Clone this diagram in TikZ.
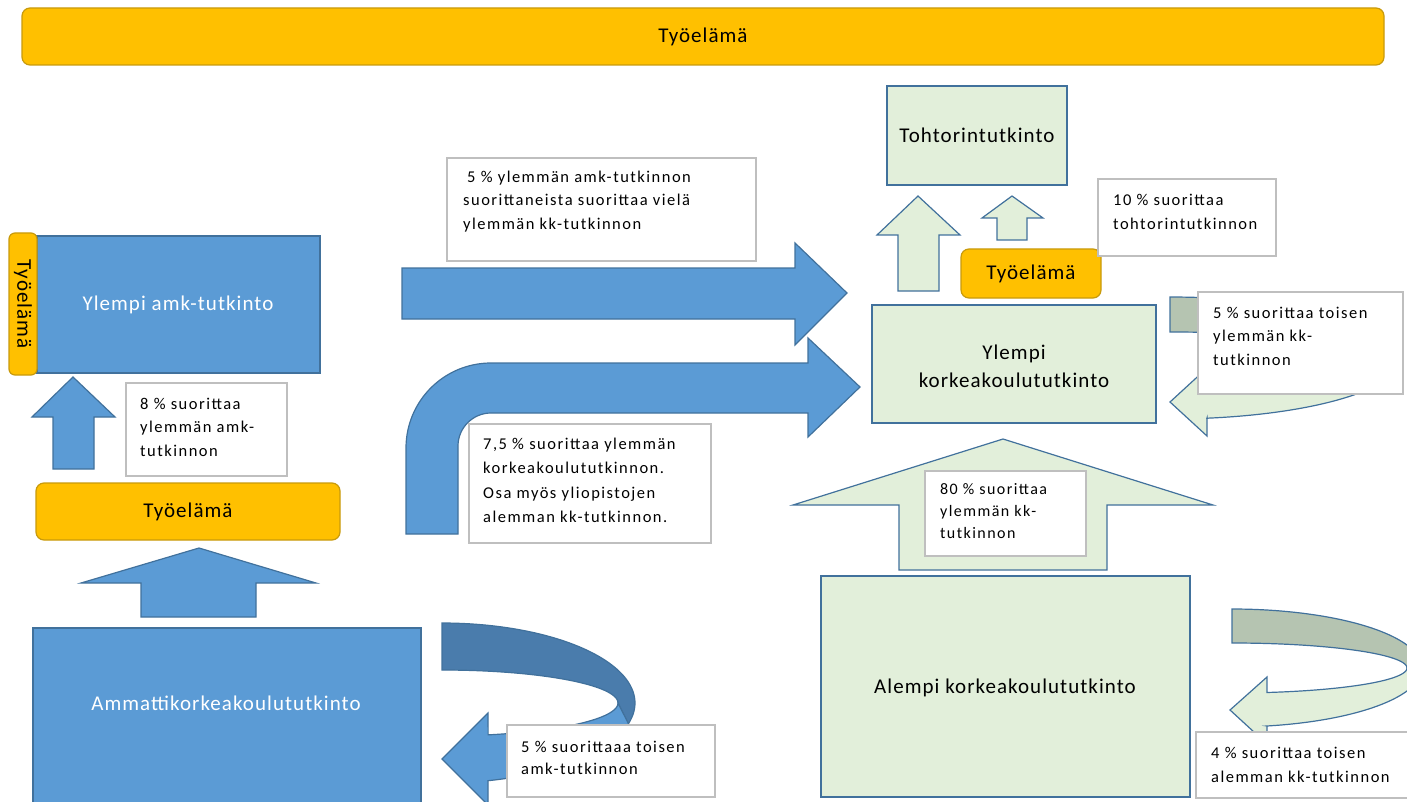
\documentclass[tikz,border=0pt]{standalone}
\usepackage{fontspec}
\setmainfont{Carlito}
\newfontfamily\lblfont[LetterSpace=9]{Carlito}
\newfontfamily\bigfont[LetterSpace=5]{Carlito}
\definecolor{bluef}{HTML}{5B9BD5}
\definecolor{blued}{HTML}{41719C}
\definecolor{bluedark}{HTML}{4A7CAC}
\definecolor{greenf}{HTML}{E2EFDA}
\definecolor{greend}{HTML}{B5C4B1}
\definecolor{orf}{HTML}{FFC000}
\definecolor{ord}{HTML}{C89A0C}
\definecolor{lblb}{HTML}{BFBFBF}
\tikzset{
  blueshape/.style={fill=bluef, draw=blued, line width=1.2pt},
  darkshape/.style={fill=bluedark, draw=blued, line width=1.2pt},
  greenshape/.style={fill=greenf, draw=blued, line width=1.2pt},
  greydshape/.style={fill=greend, draw=blued, line width=1.2pt},
  orbox/.style={fill=orf, draw=ord, line width=1.2pt, rounded corners=8pt, inner sep=0pt},
  plainbox/.style={line width=1.2pt, inner sep=0pt},
  lblbox/.style={fill=white, draw=lblb, line width=1.5pt, inner sep=0pt},
  lbltext/.style={font=\lblfont\fontsize{16.5}{23.7}\selectfont, align=left, anchor=north west, inner sep=0pt},
  bigtext/.style={font=\bigfont\fontsize{21}{28}\selectfont, align=center, inner sep=0pt},
}
\begin{document}
\begin{tikzpicture}[x=1pt,y=-1pt]
\useasboundingbox (0,0) rectangle (1407,802);
\clip (0,0) rectangle (1407,802);

% top bar
\node[orbox, minimum width=1362pt, minimum height=57pt] (topbar) at (703,36.5) {};
\node[bigtext] (topbartxt) at (703,37) {Työelämä};

% ---------- left column ----------
\node[plainbox, fill=bluef, draw=blued, minimum width=283pt, minimum height=137pt] (ylamk) at (178.5,304.5) {};
\node[bigtext, text=white] (ylamktxt) at (178,305) {Ylempi amk-tutkinto};
\node[orbox, rounded corners=6pt, minimum width=142pt, minimum height=28pt, rotate=-90] (vtyo) at (23,304) {};
\node[bigtext, rotate=-90] (vtyotxt) at (23,304) {Työelämä};

\draw[blueshape] (73,377) -- (115,417) -- (94,417) -- (94,469) -- (53,469) -- (53,417) -- (32,417) -- cycle;

\node[orbox, minimum width=304pt, minimum height=57pt] (tyo2) at (188,511.5) {};
\node[bigtext] (tyo2txt) at (188,512) {Työelämä};

\draw[blueshape] (199,548) -- (316,583) -- (256,583) -- (256,617) -- (141,617) -- (141,583) -- (81,583) -- cycle;

\node[plainbox, fill=bluef, draw=blued, minimum width=388pt, minimum height=182pt] (amk) at (227,719) {};
\node[bigtext, text=white] (amktxt) at (226,703) {Ammattikorkeakoulututkinto};

% ---------- middle arrows ----------
\draw[blueshape] (402,268) -- (795,268) -- (795,243) -- (847,293) -- (795,345) -- (795,319) -- (402,319) -- cycle;

\draw[blueshape] (406,534) -- (406,448) .. controls (406,401) and (444,363) .. (491,363)
  -- (808,363) -- (808,338) -- (860,387) -- (808,437) -- (808,413) -- (491,413)
  .. controls (472.8,413) and (458,427.8) .. (458,446) -- (458,534) -- cycle;

% bottom middle curved arrow
\draw[darkshape] plot[domain=-90:15, samples=50] ({442+193*cos(\x)},{703+80*sin(\x)})
  -- plot[domain=0:-90, samples=50] ({442+176*cos(\x)},{703+33*sin(\x)}) -- cycle;
\draw[blueshape] plot[domain=0:74.8, samples=50] ({442+176*cos(\x)},{703+33*sin(\x)})
  -- (488,713) -- (442,759) -- (488,805) -- (488,781)
  -- plot[domain=76.2:15, samples=50] ({442+193*cos(\x)},{703+80*sin(\x)}) -- cycle;

% ---------- right column ----------
\node[plainbox, fill=greenf, draw=blued, minimum width=180pt, minimum height=99pt] (tohtori) at (977,135.5) {};
\node[bigtext] (tohtoritxt) at (977,135) {Tohtorintutkinto};

\draw[greenshape] (918,196) -- (960,235) -- (939,235) -- (939,291) -- (898,291) -- (898,235) -- (877,235) -- cycle;
\draw[greenshape] (1012,196) -- (1043,218) -- (1027,218) -- (1027,240) -- (997,240) -- (997,218) -- (982,218) -- cycle;

\node[orbox, minimum width=140pt, minimum height=49pt] (tyo3) at (1031,273.5) {};
\node[bigtext] (tyo3txt) at (1031,274) {Työelämä};

\node[plainbox, fill=greenf, draw=blued, minimum width=284pt, minimum height=118pt] (ylkk) at (1014,364) {};
\node[bigtext] (ylkktxt) at (1014,366) {Ylempi\\korkeakoulututkinto};

% top-right curved arrow
\draw[greydshape] plot[domain=-90:15, samples=50] ({1170+231*cos(\x)},{358+61*sin(\x)})
  -- plot[domain=0:-90, samples=50] ({1170+217*cos(\x)},{358+26*sin(\x)}) -- cycle;
\draw[greenshape] plot[domain=0:80.2, samples=50] ({1170+217*cos(\x)},{358+26*sin(\x)})
  -- (1207,368) -- (1170,402) -- (1207,436) -- (1207,418)
  -- plot[domain=80.8:15, samples=50] ({1170+231*cos(\x)},{358+61*sin(\x)}) -- cycle;

\draw[greenshape] (1003,439) -- (1213,505) -- (1107,505) -- (1107,570) -- (899,570) -- (899,505) -- (793,505) -- cycle;

\node[plainbox, fill=greenf, draw=blued, minimum width=369pt, minimum height=221pt] (alempi) at (1005.5,686.5) {};
\node[bigtext] (alempitxt) at (1005,688) {Alempi korkeakoulututkinto};

% bottom-right curved arrow
\draw[greydshape] plot[domain=-90:15, samples=50] ({1232+190*cos(\x)},{668+59*sin(\x)})
  -- plot[domain=0:-90, samples=50] ({1232+175*cos(\x)},{668+25*sin(\x)}) -- cycle;
\draw[greenshape] plot[domain=0:78.5, samples=50] ({1232+175*cos(\x)},{668+25*sin(\x)})
  -- (1267,677) -- (1230,710) -- (1267,744) -- (1267,726)
  -- plot[domain=79.4:15, samples=50] ({1232+190*cos(\x)},{668+59*sin(\x)}) -- cycle;

% ---------- label boxes ----------
\node[lblbox, minimum width=161pt, minimum height=93pt] (l8) at (206.5,429.5) {};
\node[lbltext] (l8txt) at (140,397.5) {8 \% suorittaa\\ylemmän amk-\\tutkinnon};

\node[lblbox, minimum width=309pt, minimum height=103pt] (l5amk) at (601.5,209.5) {};
\node[lbltext] (l5amktxt) at (463,170.5) {\hspace{4pt}5 \% ylemmän amk-tutkinnon\\suorittaneista suorittaa vielä\\ylemmän kk-tutkinnon};

\node[lblbox, minimum width=242pt, minimum height=119pt] (l75) at (590,483.5) {};
\node[lbltext, font=\lblfont\fontsize{16.5}{24.3}\selectfont] (l75txt) at (483,438) {7,5 \% suorittaa ylemmän\\korkeakoulututkinnon.\\Osa myös yliopistojen\\alemman kk-tutkinnon.};

\node[lblbox, minimum width=208pt, minimum height=72pt] (l5amk2) at (611,761) {};
\node[lbltext, font=\lblfont\fontsize{16.5}{22.5}\selectfont] (l5amk2txt) at (521,740.5) {5 \% suorittaaa toisen\\amk-tutkinnon};

\node[lblbox, minimum width=178pt, minimum height=77pt] (l10) at (1187,217.5) {};
\node[lbltext] (l10txt) at (1113,194) {10 \% suorittaa\\tohtorintutkinnon};

\node[lblbox, minimum width=205pt, minimum height=102pt] (l5kk) at (1300.5,343) {};
\node[lbltext] (l5kktxt) at (1213,306.5) {5 \% suorittaa toisen\\ylemmän kk-\\tutkinnon};

\node[lblbox, minimum width=161pt, minimum height=85pt] (l80) at (1005.5,513.5) {};
\node[lbltext, font=\lblfont\fontsize{16}{21.7}\selectfont] (l80txt) at (940,483.5) {80 \% suorittaa\\ylemmän kk-\\tutkinnon};

\node[lblbox, minimum width=224pt, minimum height=66pt] (l4) at (1308,765) {};
\node[lbltext] (l4txt) at (1211,747) {4 \% suorittaa toisen\\alemman kk-tutkinnon};

\end{tikzpicture}
\end{document}
